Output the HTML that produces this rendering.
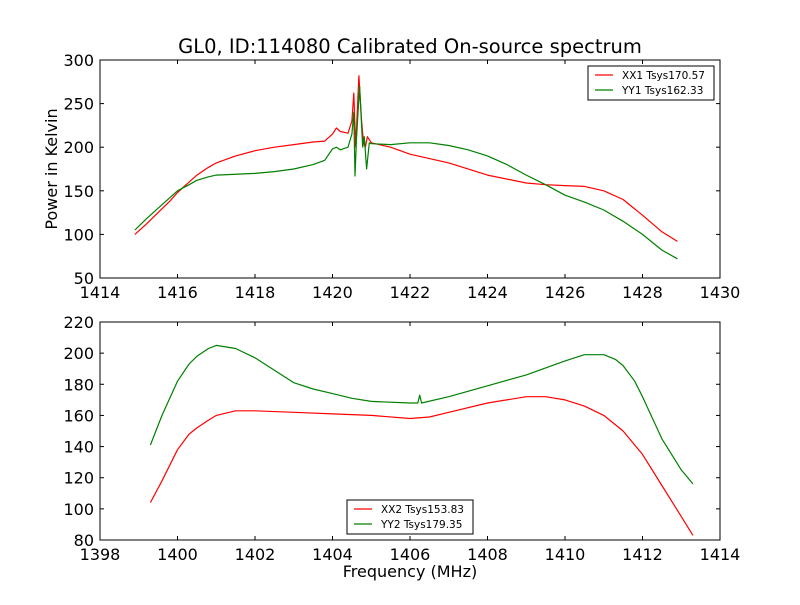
<!DOCTYPE html>
<html><head><meta charset="utf-8"><style>
body{margin:0;background:#fff;}
svg{font-family:"DejaVu Sans","Liberation Sans",sans-serif;}
</style></head><body>
<svg id="c" width="800" height="600" viewBox="0 0 800 600">
<rect width="800" height="600" fill="#fff"/>
</svg>
<script>
const topFreqXX=[1414.9,1415.2,1415.5,1415.8,1416,1416.3,1416.5,1416.8,1417,1417.5,1418,1418.5,1419,1419.5,1419.8,1420,1420.1,1420.2,1420.4,1420.5,1420.55,1420.6,1420.68,1420.75,1420.8,1420.85,1420.9,1421,1421.5,1422,1423,1424,1425,1425.5,1426,1426.5,1427,1427.5,1428,1428.5,1428.9];
const topValXX=[100,112,125,138,148,160,168,177,182,190,196,200,203,206,207,215,222,218,216,230,262,200,282,230,205,200,212,205,200,192,182,168,159,157,156,155,150,140,122,103,92];
const topFreqYY=[1414.9,1415.2,1415.5,1415.8,1416,1416.3,1416.5,1416.8,1417,1418,1418.5,1419,1419.5,1419.8,1420,1420.1,1420.2,1420.4,1420.5,1420.55,1420.58,1420.62,1420.7,1420.78,1420.82,1420.88,1420.95,1421,1421.5,1422,1422.5,1423,1423.5,1424,1424.5,1425,1425.5,1426,1426.5,1427,1427.5,1428,1428.5,1428.9];
const topValYY=[105,118,130,142,150,157,162,166,168,170,172,175,180,185,198,200,197,200,215,240,167,210,270,200,212,175,205,204,203,205,205,202,197,190,180,168,157,145,137,128,115,100,82,72];
const botFreqXX=[1399.3,1399.6,1400,1400.3,1400.5,1400.8,1401,1401.5,1402,1403,1404,1405,1406,1406.5,1407,1408,1409,1409.5,1410,1410.5,1411,1411.5,1412,1412.5,1413,1413.3];
const botValXX=[104,118,138,148,152,157,160,163,163,162,161,160,158,159,162,168,172,172,170,166,160,150,135,115,95,83];
const botFreqYY=[1399.3,1399.6,1400,1400.3,1400.5,1400.8,1401,1401.5,1402,1402.5,1403,1403.5,1404,1404.5,1405,1406,1406.2,1406.25,1406.3,1407,1408,1409,1410,1410.5,1411,1411.3,1411.5,1411.8,1412,1412.5,1413,1413.3];
const botValYY=[141,160,182,193,198,203,205,203,197,189,181,177,174,171,169,168,168,173,168,172,179,186,195,199,199,196,192,182,172,145,125,116];
const topXTicks=[1414,1416,1418,1420,1422,1424,1426,1428,1430];
const topYTicks=[50,100,150,200,250,300];
const botXTicks=[1398,1400,1402,1404,1406,1408,1410,1412,1414];
const botYTicks=[80,100,120,140,160,180,200,220];
const NS="http://www.w3.org/2000/svg";
const svg=document.getElementById('c');
function mk(t,a,p){const e=document.createElementNS(NS,t);for(const k in a)e.setAttribute(k,a[k]);(p||svg).appendChild(e);return e;}
function panel(name,x0,x1,y0,y1,L,T,W,H,xt,yt,series,legend){
  const g=mk('g',{});
  
  
  const sx=v=>L+(v-x0)/(x1-x0)*W, sy=v=>T+H-(v-y0)/(y1-y0)*H;
  series.forEach(s=>{
    const d=s.f.map((f,i)=>(i?'L':'M')+sx(f).toFixed(1)+','+sy(s.v[i]).toFixed(1)).join('');
    const p=mk('path',{d:d,fill:'none',stroke:s.c,'stroke-width':1.2,'stroke-linejoin':'round'},g);
    
    
  });
  const fr=mk('rect',{x:L,y:T,width:W,height:H,fill:'none',stroke:'#000','stroke-width':1},g);
  
  
  xt.forEach(v=>{const x=sx(v);
    mk('line',{x1:x,x2:x,y1:T+H,y2:T+H-4,stroke:'#000'},g);mk('line',{x1:x,x2:x,y1:T,y2:T+4,stroke:'#000'},g);
    const t=mk('text',{x:x,y:T+H+20,'text-anchor':'middle','font-size':16},g);t.textContent=v;
    
    });
  yt.forEach(v=>{const y=sy(v);
    mk('line',{x1:L,x2:L+4,y1:y,y2:y,stroke:'#000'},g);mk('line',{x1:L+W,x2:L+W-4,y1:y,y2:y,stroke:'#000'},g);
    const t=mk('text',{x:L-6,y:y+6,'text-anchor':'end','font-size':16},g);t.textContent=v;
    
    });
  const lg=mk('g',{},g);
  
  
  mk('rect',{x:legend.x,y:legend.y,width:126,height:34,fill:'#fff',stroke:'#000'},lg);
  series.forEach((s,i)=>{const y=legend.y+9+i*15;
    mk('line',{x1:legend.x+7,x2:legend.x+25,y1:y,y2:y,stroke:s.c,'stroke-width':1.2},lg);
    const t=mk('text',{x:legend.x+34,y:y+4,'font-size':10.5},lg);t.textContent=s.label;
    
    });
}
panel('top-chart',1414,1430,50,300,100,60,620,218,topXTicks,topYTicks,
 [{n:'xx1-line',c:'#ff0000',f:topFreqXX,v:topValXX,label:'XX1 Tsys170.57'},{n:'yy1-line',c:'#008000',f:topFreqYY,v:topValYY,label:'YY1 Tsys162.33'}],{x:588,y:66});
panel('bottom-chart',1398,1414,80,220,100,322,620,218,botXTicks,botYTicks,
 [{n:'xx2-line',c:'#ff0000',f:botFreqXX,v:botValXX,label:'XX2 Tsys153.83'},{n:'yy2-line',c:'#008000',f:botFreqYY,v:botValYY,label:'YY2 Tsys179.35'}],{x:347,y:500});
let t=mk('text',{x:410,y:53,'text-anchor':'middle','font-size':19.5});t.textContent='GL0, ID:114080 Calibrated On-source spectrum';


t=mk('text',{x:410,y:577,'text-anchor':'middle','font-size':16});t.textContent='Frequency (MHz)';


t=mk('text',{x:57,y:169,'text-anchor':'middle','font-size':16,transform:'rotate(-90 57 169)'});t.textContent='Power in Kelvin';


</script>
</body></html>
